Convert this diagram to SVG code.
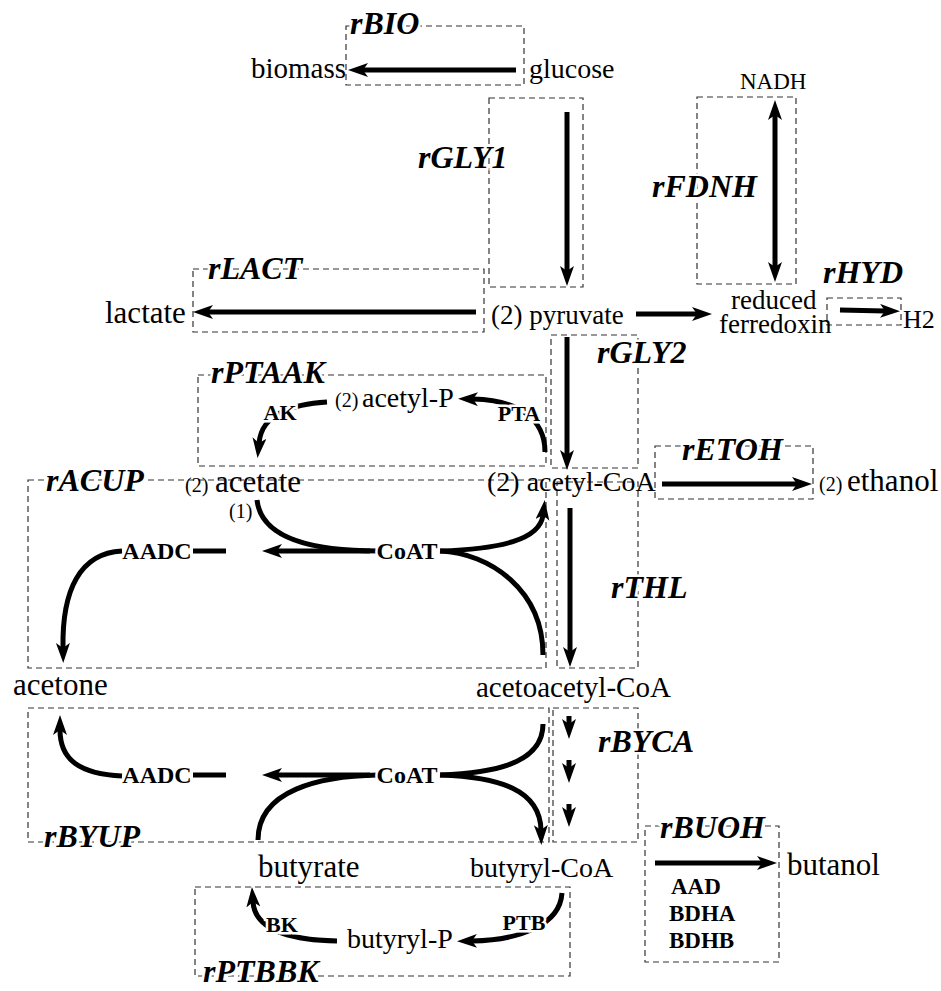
<svg xmlns="http://www.w3.org/2000/svg" width="941" height="991" viewBox="0 0 941 991">
<style>
.box{fill:none;stroke:#333;stroke-width:1.2;stroke-dasharray:6,4}
.rl{font-family:"Liberation Serif",serif;font-weight:bold;font-style:italic;font-size:32px;fill:#000;paint-order:stroke;stroke:#fff;stroke-width:5px}
.m{font-family:"Liberation Serif",serif;font-size:31px;fill:#000}
.s{font-family:"Liberation Serif",serif;font-size:20px;fill:#000}
.e{font-family:"Liberation Serif",serif;font-weight:bold;font-size:22px;fill:#000;paint-order:stroke;stroke:#fff;stroke-width:5px}
.a{fill:none;stroke:#000;stroke-width:5}
.ah{marker-end:url(#ah)}
</style>
<defs>
<marker id="ah" markerWidth="22" markerHeight="16" refX="5" refY="7" orient="auto-start-reverse" markerUnits="userSpaceOnUse"><path d="M0,0 L20,7 L0,14 L5,7 z" fill="#000"/></marker>
</defs>
<g id="reactions">
<g id="rBIO"><rect class="box" x="346" y="26" width="178" height="59"/></g>
<g id="rGLY1"><rect class="box" x="489" y="98" width="94" height="189"/></g>
<g id="rFDNH"><rect class="box" x="697" y="97" width="99" height="187"/></g>
<g id="rLACT"><rect class="box" x="193" y="269" width="291" height="63"/></g>
<g id="rHYD"><rect class="box" x="827" y="298" width="74" height="27"/></g>
<g id="rGLY2"><rect class="box" x="551" y="335" width="87" height="133"/></g>
<g id="rPTAAK"><rect class="box" x="198" y="375" width="348" height="91"/></g>
<g id="rETOH"><rect class="box" x="655" y="446" width="158" height="53"/></g>
<g id="rACUP"><rect class="box" x="28" y="480" width="518" height="188"/></g>
<g id="rTHL"><rect class="box" x="557" y="482" width="81" height="186"/></g>
<g id="rBYUP"><rect class="box" x="28" y="708" width="521" height="134"/></g>
<g id="rBYCA"><rect class="box" x="553" y="708" width="85" height="134"/></g>
<g id="rBUOH"><rect class="box" x="645" y="826" width="134" height="136"/></g>
<g id="rPTBBK"><rect class="box" x="195" y="887" width="375" height="89"/></g>
</g>
<g id="connectors">
<path class="a ah" d="M516,70 L363,70"/>
<path class="a ah" d="M567,112 L567,271"/>
<path class="a ah" d="M775,115 L775,267" marker-start="url(#ah)"/>
<path class="a ah" d="M636,314 L697,314"/>
<path class="a ah" d="M840,310 L885,311"/>
<path class="a ah" d="M476,312 L208,312"/>
<path class="a ah" d="M567,337 L567,455"/>
<path class="a ah" d="M545,452 C545,420 520,400 473,399"/>
<path class="a ah" d="M327,402 C295,404 262,412 259,443"/>
<path class="a ah" d="M662,484 L797,484"/>
<path class="a ah" d="M570,508 L570,652"/>
<path class="a" d="M257,500 C262,545 330,551 378,551"/>
<path class="a ah" d="M440,551 C500,549 540,540 543,515"/>
<path class="a" d="M543,655 C543,590 490,553 440,551"/>
<path class="a ah" d="M370,551 L277,551"/>
<path class="a" d="M193,551 L226,551"/>
<path class="a ah" d="M122,551 C80,553 62,590 63,648"/>
<path class="a" d="M543,724 C543,765 490,773 440,775"/>
<path class="a" d="M258,840 C258,790 320,776 378,775"/>
<path class="a ah" d="M440,775 C500,777 540,790 541,830"/>
<path class="a ah" d="M370,775 L277,775"/>
<path class="a" d="M193,775 L226,775"/>
<path class="a ah" d="M122,776 C80,774 60,760 60,730"/>
<path class="a ah" d="M569,716 L569,724"/>
<path class="a ah" d="M569,760 L569,768"/>
<path class="a ah" d="M569,804 L569,812"/>
<path class="a ah" d="M655,863 L762,863"/>
<path class="a ah" d="M562,893 C560,925 520,940 472,941"/>
<path class="a ah" d="M337,941 C290,940 255,930 253,902"/>
</g>
<g id="reaction-labels">
<text class="rl" x="350" y="34">rBIO</text>
<text class="rl" x="418" y="168">rGLY1</text>
<text class="rl" x="652" y="197">rFDNH</text>
<text class="rl" x="208" y="279">rLACT</text>
<text class="rl" x="823" y="283">rHYD</text>
<text class="rl" x="597" y="363">rGLY2</text>
<text class="rl" x="211" y="383">rPTAAK</text>
<text class="rl" x="682" y="460">rETOH</text>
<text class="rl" x="46" y="491">rACUP</text>
<text class="rl" x="611" y="598">rTHL</text>
<text class="rl" x="598" y="752">rBYCA</text>
<text class="rl" x="44" y="847">rBYUP</text>
<text class="rl" x="660" y="838">rBUOH</text>
<text class="rl" x="203" y="982">rPTBBK</text>
</g>
<g id="enzymes">
<text class="e" x="280" y="420" text-anchor="middle">AK</text>
<text class="e" x="519" y="421" text-anchor="middle">PTA</text>
<text class="e" x="407" y="559" text-anchor="middle" style="font-size:24px">CoAT</text>
<text class="e" x="157" y="559" text-anchor="middle" style="font-size:24px">AADC</text>
<text class="e" x="407" y="783" text-anchor="middle" style="font-size:24px">CoAT</text>
<text class="e" x="157" y="783" text-anchor="middle" style="font-size:24px">AADC</text>
<text class="e" x="282" y="932" text-anchor="middle">BK</text>
<text class="e" x="524" y="930" text-anchor="middle">PTB</text>
<text class="e" x="671" y="894" style="font-size:23px">AAD</text>
<text class="e" x="669" y="921" style="font-size:23px">BDHA</text>
<text class="e" x="669" y="948" style="font-size:23px">BDHB</text>
</g>
<g id="metabolites">
<g id="biomass"><text class="m" x="251" y="78" style="font-size:29px">biomass</text></g>
<g id="glucose"><text class="m" x="529" y="78" style="font-size:28px">glucose</text></g>
<g id="NADH"><text class="m" x="740" y="89" style="font-size:23px">NADH</text></g>
<g id="lactate"><text class="m" x="105" y="323">lactate</text></g>
<g id="pyruvate"><text class="m" x="491" y="324" style="font-size:27px">(2) pyruvate</text></g>
<g id="ferredoxin"><text class="m" x="731" y="309" style="font-size:27px">reduced</text><text class="m" x="719" y="333" style="font-size:27px">ferredoxin</text></g>
<g id="H2"><text class="m" x="903" y="328" style="font-size:26px">H2</text></g>
<g id="acetyl-P"><text class="s" x="335" y="407">(2)</text><text class="m" x="362" y="407" style="font-size:28px">acetyl-P</text></g>
<g id="acetate"><text class="s" x="185" y="492">(2)</text><text class="m" x="215" y="492">acetate</text></g>
<g id="acetyl-CoA"><text class="m" x="487" y="491" style="font-size:28px">(2) acetyl-CoA</text></g>
<g id="ethanol"><text class="s" x="819" y="491">(2)</text><text class="m" x="847" y="491">ethanol</text></g>
<text class="s" x="229" y="518">(1)</text>
<g id="acetone"><text class="m" x="13" y="695">acetone</text></g>
<g id="acetoacetyl-CoA"><text class="m" x="476" y="697" style="font-size:29px">acetoacetyl-CoA</text></g>
<g id="butyrate"><text class="m" x="258" y="877">butyrate</text></g>
<g id="butyryl-CoA"><text class="m" x="470" y="877" style="font-size:28px">butyryl-CoA</text></g>
<g id="butanol"><text class="m" x="787" y="875">butanol</text></g>
<g id="butyryl-P"><text class="m" x="347" y="948" style="font-size:28px">butyryl-P</text></g>
</g>
</svg>
